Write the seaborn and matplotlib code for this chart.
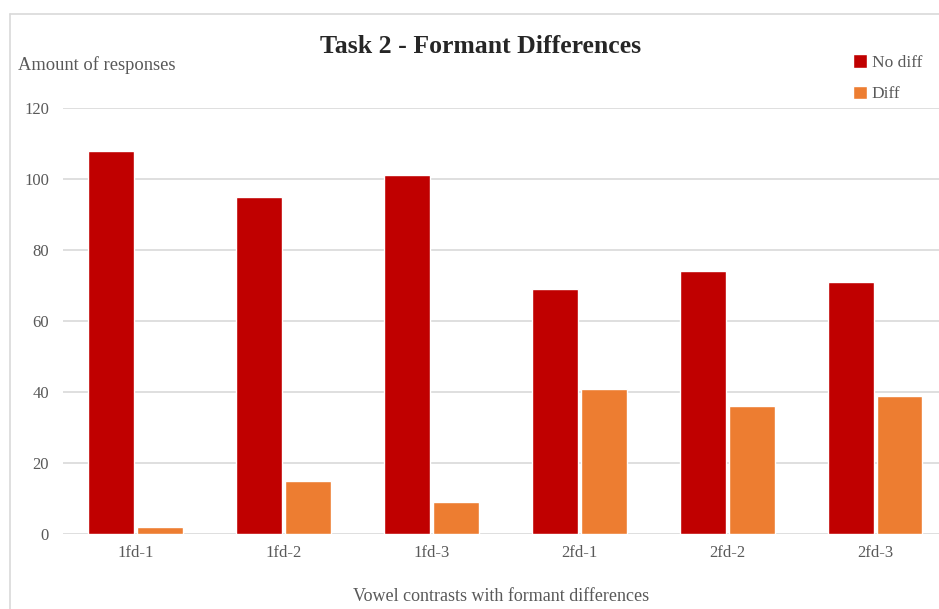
import matplotlib
matplotlib.use("Agg")
import matplotlib.pyplot as plt
from matplotlib.lines import Line2D
import pandas as pd
import seaborn as sns

# Response counts per vowel contrast
contrasts = ["1fd-1", "1fd-2", "1fd-3", "2fd-1", "2fd-2", "2fd-3"]
no_diff = [108, 95, 101, 69, 74, 71]
diff = [2, 15, 9, 41, 36, 39]
series_names = ["No diff", "Diff"]
series_colors = ["#C00000", "#ED7D31"]
y_ticks = [0, 20, 40, 60, 80, 100, 120]

df = pd.DataFrame({
    "contrast": contrasts * 2,
    "count": no_diff + diff,
    "series": [series_names[0]] * len(contrasts) + [series_names[1]] * len(contrasts),
})

sns.set_theme(style="white")
plt.rcParams["font.family"] = ["Liberation Serif", "DejaVu Serif"]

text_gray = "#595959"
grid_gray = "#D9D9D9"

fig = plt.figure(figsize=(9.39, 6.09), dpi=100)
ax = fig.add_axes([0.067, 0.123, 0.933, 0.6997])

sns.barplot(
    data=df, x="contrast", y="count", hue="series",
    order=contrasts, hue_order=series_names,
    palette=series_colors, width=0.66, gap=0.07,
    saturation=1, errorbar=None, ax=ax, legend=True,
)

ax.set_xlim(-0.49, 5.43)
ax.set_ylim(0, 120)
ax.set_yticks(y_ticks)
ax.yaxis.grid(True, color=grid_gray, linewidth=1.2)
ax.set_axisbelow(True)
for side in ["top", "right", "left", "bottom"]:
    ax.spines[side].set_visible(False)
ax.tick_params(axis="both", length=0, labelsize=12, labelcolor=text_gray)
ax.tick_params(axis="x", pad=8)
ax.tick_params(axis="y", pad=10)
ax.set_xlabel("Vowel contrasts with formant differences", fontsize=13,
              color=text_gray, labelpad=19)
ax.set_ylabel("")

# Legend as small squares in the top-right corner
handles, labels = ax.get_legend_handles_labels()
ax.get_legend().remove()
leg = fig.legend(handles, labels, loc="upper left", bbox_to_anchor=(0.899, 0.925),
                 frameon=False, fontsize=12.5, handlelength=0.8, handleheight=0.8,
                 handletextpad=0.3, labelspacing=0.85, borderpad=0)
for t in leg.get_texts():
    t.set_color(text_gray)

# Title and horizontal y-axis label
fig.text(0.512, 0.924, "Task 2 - Formant Differences", ha="center", va="center",
         fontsize=18.5, fontweight="bold", color="#262626")
fig.text(0.019, 0.893, "Amount of responses", ha="left", va="center",
         fontsize=13.3, color=text_gray)

# Chart frame
fig.add_artist(Line2D([0.0106, 0.0106], [0.0, 0.977], color=grid_gray, linewidth=1.2))
fig.add_artist(Line2D([0.0106, 1.0], [0.977, 0.977], color=grid_gray, linewidth=1.2))

fig.savefig("out.png", dpi=100)
